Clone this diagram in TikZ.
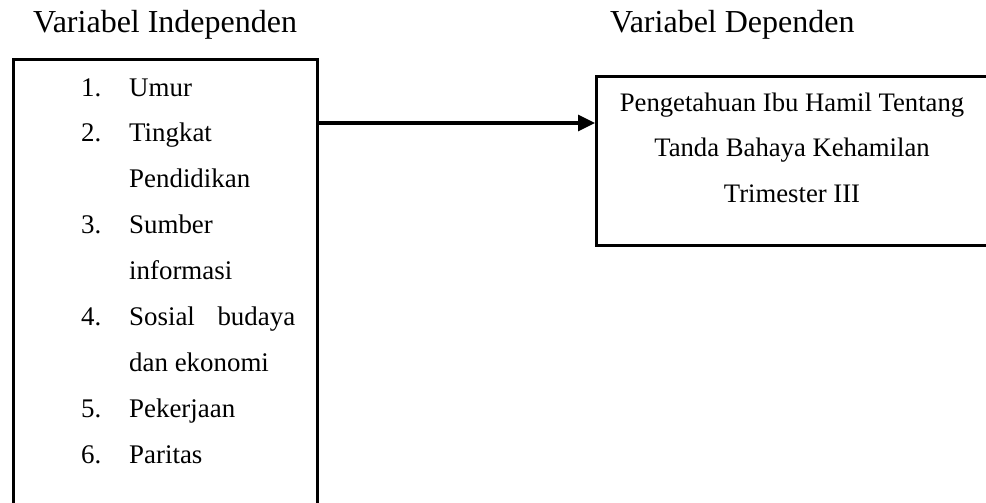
\documentclass[tikz,border=0pt]{standalone}
\usepackage{fontspec}
\setmainfont{Liberation Serif}
\usetikzlibrary{arrows.meta}
\tikzset{
  title/.style={anchor=base west, inner sep=0pt, font=\fontsize{32}{36}\selectfont},
  itemtxt/.style={anchor=base west, inner sep=0pt, font=\fontsize{26.9}{30}\selectfont},
  bodytxt/.style={anchor=base, inner sep=0pt, font=\fontsize{26.7}{30}\selectfont},
  framebox/.style={draw, line width=2.7pt, inner sep=0pt, anchor=north west},
  link/.style={line width=3.2pt, -{Triangle[length=17pt,width=16pt]}}
}
\begin{document}
\begin{tikzpicture}[x=1pt,y=-1pt]
\useasboundingbox (0,0) rectangle (986,503);
\clip (0,0) rectangle (986,503);
% titles
\node[title] (t1) at (33,33) {Variabel Independen};
\node[title] (t2) at (610,33) {Variabel Dependen};
% boxes
\node[framebox, minimum width=304pt, minimum height=460pt] (lb) at (12,58) {};
\node[framebox, minimum width=410pt, minimum height=169pt] (rb) at (595,75) {};
% left list
\node[itemtxt] (n1) at (81,96) {1.};
\node[itemtxt] (i1) at (129,96) {Umur};
\node[itemtxt] (n2) at (81,141.9) {2.};
\node[itemtxt] (i2) at (129,141.9) {Tingkat};
\node[itemtxt] (i2b) at (129,187.8) {Pendidikan};
\node[itemtxt] (n3) at (81,233.7) {3.};
\node[itemtxt] (i3) at (129,233.7) {Sumber};
\node[itemtxt] (i3b) at (129,279.6) {informasi};
\node[itemtxt] (n4) at (81,325.5) {4.};
\node[itemtxt] (i4) at (129,325.5) {\hbox to 166pt{Sosial\hfil budaya}};
\node[itemtxt] (i4b) at (129,371.4) {dan ekonomi};
\node[itemtxt] (n5) at (81,417.3) {5.};
\node[itemtxt] (i5) at (129,417.3) {Pekerjaan};
\node[itemtxt] (n6) at (81,463.2) {6.};
\node[itemtxt] (i6) at (129,463.2) {Paritas};
% right text
\node[bodytxt] (r1) at (792,111.7) {Pengetahuan Ibu Hamil Tentang};
\node[bodytxt] (r2) at (792,157) {Tanda Bahaya Kehamilan};
\node[bodytxt] (r3) at (792,202) {Trimester III};
% connector
\coordinate (ay) at (0,123);
\draw[link] (lb.east |- ay) -- (rb.west |- ay);
\end{tikzpicture}
\end{document}
